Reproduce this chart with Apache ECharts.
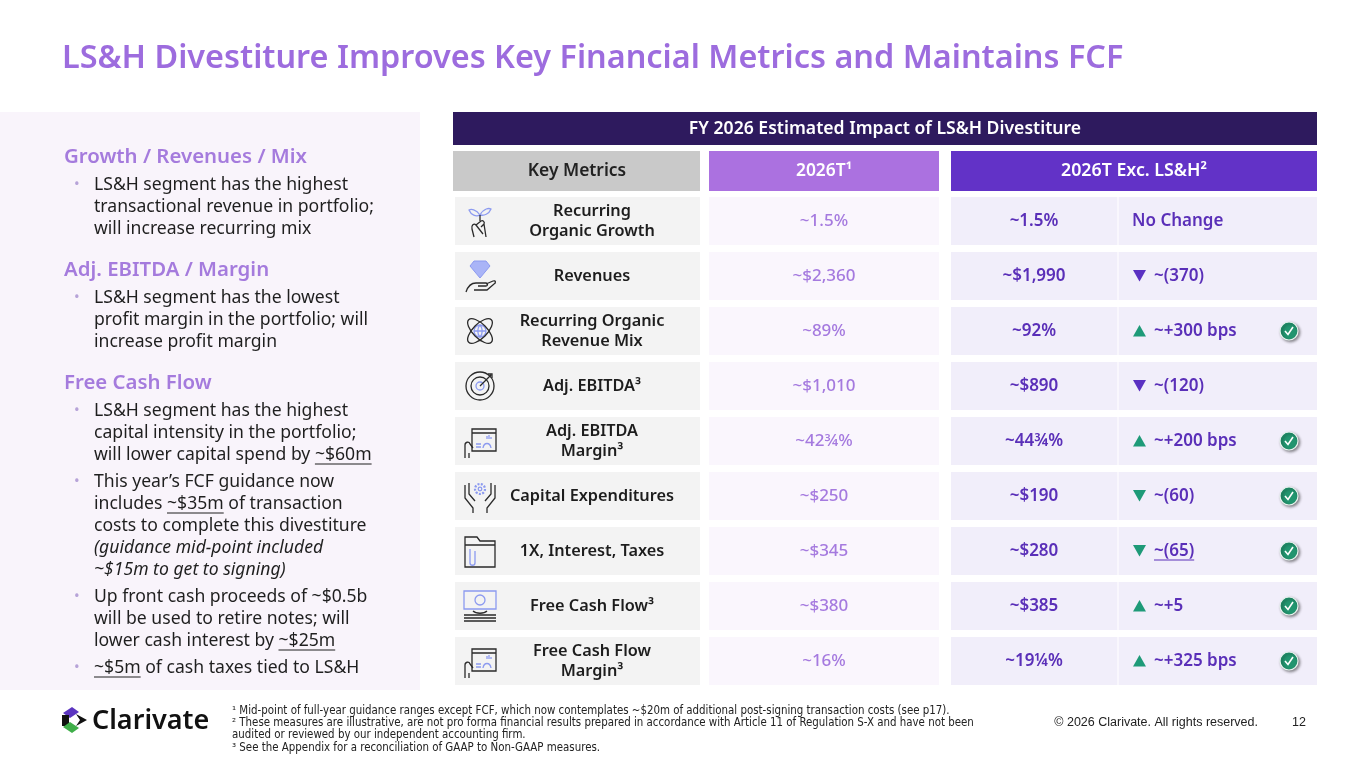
<!DOCTYPE html>
<html>
<head>
<meta charset="utf-8">
<script src="https://cdn.jsdelivr.net/npm/echarts@6/dist/echarts.min.js"></script>
<style>
  html, body { margin: 0; padding: 0; background: #fff; }
  #main { width: 1365px; height: 766px; }
</style>
</head>
<body>
<div id="main"></div>
<script>
// table data, one entry per row
const metrics = [
  'Recurring\nOrganic Growth', 'Revenues', 'Recurring Organic\nRevenue Mix', 'Adj. EBITDA³',
  'Adj. EBITDA\nMargin³', 'Capital Expenditures', '1X, Interest, Taxes', 'Free Cash Flow³',
  'Free Cash Flow\nMargin³'
];
const iconKinds = ['growth', 'revenue', 'mix', 'target', 'margin', 'capex', 'folder', 'cash', 'margin'];
const est2026 = ['~1.5%', '~$2,360', '~89%', '~$1,010', '~42¾%', '~$250', '~$345', '~$380', '~16%'];
const estExLSH = ['~1.5%', '~$1,990', '~92%', '~$890', '~44¾%', '~$190', '~$280', '~$385', '~19¼%'];
const changeDir = ['none', 'down', 'up', 'down', 'up', 'down', 'down', 'up', 'up'];
// text between _ _ is underlined
const changeText = ['No Change', '~(370)', '~+300 bps', '~(120)', '~+200 bps', '~(60)', '_~(65)_', '~+5', '~+325 bps'];
const favourable = [false, false, true, false, true, true, true, true, true];

const leftSections = [
  { head: 'Growth / Revenues / Mix', bullets: [
    ['LS&H segment has the highest', 'transactional revenue in portfolio;', 'will increase recurring mix']
  ]},
  { head: 'Adj. EBITDA / Margin', bullets: [
    ['LS&H segment has the lowest', 'profit margin in the portfolio; will', 'increase profit margin']
  ]},
  { head: 'Free Cash Flow', bullets: [
    ['LS&H segment has the highest', 'capital intensity in the portfolio;', 'will lower capital spend by _~$60m_'],
    ['This year’s FCF guidance now', 'includes _~$35m_ of transaction', 'costs to complete this divestiture',
     '*(guidance mid-point included', '*~$15m to get to signing)'],
    ['Up front cash proceeds of ~$0.5b', 'will be used to retire notes; will', 'lower cash interest by _~$25m_'],
    ['_~$5m_ of cash taxes tied to LS&H']
  ]}
];

const footnotes = [
  '¹ Mid-point of full-year guidance ranges except FCF, which now contemplates ~$20m of additional post-signing transaction costs (see p17).',
  '² These measures are illustrative, are not pro forma financial results prepared in accordance with Article 11 of Regulation S-X and have not been',
  'audited or reviewed by our independent accounting firm.',
  '³ See the Appendix for a reconciliation of GAAP to Non-GAAP measures.'
];

const FONT = '"Noto Sans", Lato, sans-serif';
const PURPLE_LIGHT = '#A57ADF';
const PURPLE_DARK = '#5A2FB8';
const GREEN = '#1E9A78';

const measureCtx = document.createElement('canvas').getContext('2d');
function textW(str, font) {
  measureCtx.font = font;
  return measureCtx.measureText(str).width;
}

// text with _underlined_ parts -> text element plus underline lines
function markedText(str, x, y, font, fill) {
  const parts = str.split('_');
  const els = [{
    type: 'text',
    style: { text: parts.join(''), x: x, y: y, font: font, fill: fill,
      align: 'left', verticalAlign: 'middle', textAlign: 'left', textVerticalAlign: 'middle' }
  }];
  let off = 0;
  parts.forEach(function (p, k) {
    const w = textW(p, font);
    if (k % 2 === 1) {
      els.push({ type: 'line', shape: { x1: x + off, y1: y + 9, x2: x + off + w, y2: y + 9 },
        style: { stroke: fill, lineWidth: 1 } });
    }
    off += w;
  });
  return els;
}

function txt(text, x, y, font, fill, align) {
  return { type: 'text', style: { text: text, x: x, y: y, font: font, fill: fill,
    align: align || 'left', verticalAlign: 'middle', textAlign: align || 'left', textVerticalAlign: 'middle',
    lineHeight: 20 } };
}

// little line icons, drawn in a 34x34 box
const INK = '#2a2a2a', ACC = '#8C9AF0';
function icon(kind) {
  const s = { stroke: INK, fill: 'none', lineWidth: 1.3 };
  const a = { stroke: ACC, fill: 'none', lineWidth: 1.3 };
  const p = function (d, st) { return { type: 'path', shape: { pathData: d }, style: st }; };
  switch (kind) {
    case 'growth': return [
      p('M17 11 C13 5 8 5 6 6 C8 11 13 13 17 11 Z M17 11 C21 4 26 4 28 5 C26 10 21 12 17 11 Z', a),
      p('M17 11 L17 17', s),
      p('M11 33 L9 25 C8 21 11 19 13 21 L20 30 M13 21 L18 17 C20 16 22 18 21 20 L18 23 M21 20 L23 33', s)
    ];
    case 'revenue': return [
      p('M11 2 L23 2 L27 7 L17 19 L7 7 Z', { stroke: ACC, fill: '#A9B4F7', lineWidth: 1 }),
      p('M3 33 C5 27 8 24 13 24 L23 24 C25 24 25 27 23 27 L15 27 M23 25 L30 22 C33 21 33 24 31 25 L24 31 L11 31', s)
    ];
    case 'mix': return [
      { type: 'circle', shape: { cx: 17, cy: 17, r: 6 }, style: a },
      p('M11 17 L23 17 M17 11 C14 14 14 20 17 23 C20 20 20 14 17 11', a),
      { type: 'ellipse', x: 17, y: 17, rotation: Math.PI / 4, shape: { cx: 0, cy: 0, rx: 16, ry: 7 }, style: s },
      { type: 'ellipse', x: 17, y: 17, rotation: -Math.PI / 4, shape: { cx: 0, cy: 0, rx: 16, ry: 7 }, style: s }
    ];
    case 'target': return [
      { type: 'circle', shape: { cx: 17, cy: 17, r: 14 }, style: s },
      { type: 'circle', shape: { cx: 17, cy: 17, r: 9 }, style: s },
      { type: 'circle', shape: { cx: 17, cy: 17, r: 4 }, style: a },
      p('M17 17 L28 6 M25 5 L29 5 L29 9', s)
    ];
    case 'margin': return [
      p('M9 5 L33 5 L33 27 L9 27 Z M9 9 L33 9', s),
      p('M13 20 L18 20 M13 23 L18 23 M20 24 C21 18 27 18 28 24 M24 15 L24 12 M26 15 L26 11 M28 15 L28 13', a),
      p('M2 34 L2 21 C2 18 6 17 7 20 L10 24 M6 34 L6 29', s)
    ];
    case 'capex': return [
      { type: 'circle', shape: { cx: 17, cy: 10, r: 5 }, style: { stroke: ACC, fill: 'none', lineWidth: 2.2, lineDash: [2, 1.4] } },
      { type: 'circle', shape: { cx: 17, cy: 10, r: 1.8 }, style: a },
      p('M2 6 L2 19 L10 29 L10 34 M6 4 L6 15 L12 22 M32 6 L32 19 L24 29 L24 34 M28 4 L28 15 L22 22', s)
    ];
    case 'folder': return [
      p('M2 3 L14 3 L17 7 L32 7 L32 33 L2 33 Z M2 11 L32 11', s),
      p('M7 15 L7 29 C7 32 12 32 12 29 L12 17', a)
    ];
    case 'cash': return [
      { type: 'rect', shape: { x: 1, y: 2, width: 32, height: 18 }, style: a },
      { type: 'circle', shape: { cx: 17, cy: 11, r: 5 }, style: a },
      p('M10 22 C13 25 21 25 24 22 M1 26 L33 26 M1 29 L33 29 M1 32 L33 32', s)
    ];
  }
  return [];
}

function renderRow(params, api) {
  const i = api.value(1);
  const c = api.coord([0, i]);
  const band = api.size([0, 1])[1];
  const h = band - 7;
  const x0 = params.coordSys.x;
  const cy = c[1];
  const top = cy - h / 2;
  const kids = [
    { type: 'rect', shape: { x: x0 + 2, y: top, width: 245, height: h }, style: { fill: '#F3F3F3' } },
    { type: 'rect', shape: { x: x0 + 256, y: top, width: 230, height: h }, style: { fill: '#FAF6FD' } },
    { type: 'rect', shape: { x: x0 + 498, y: top, width: 366, height: h }, style: { fill: '#F1EEFA' } },
    { type: 'line', shape: { x1: x0 + 665, y1: top, x2: x0 + 665, y2: top + h }, style: { stroke: '#FBFAFE', lineWidth: 1.5 } },
    { type: 'group', x: x0 + 10, y: cy - 17, children: icon(iconKinds[i]) },
    txt(metrics[i], x0 + 139, cy, '600 16.3px ' + FONT, '#1d1d1d', 'center'),
    txt(est2026[i], x0 + 371, cy, '500 17px ' + FONT, PURPLE_LIGHT, 'center'),
    txt(estExLSH[i], x0 + 581, cy, '600 17px ' + FONT, PURPLE_DARK, 'center')
  ];
  const dir = changeDir[i];
  const arrowColor = favourable[i] ? GREEN : '#5B31C2';
  let tx = x0 + 679;
  if (dir === 'up') {
    kids.push({ type: 'polygon', shape: { points: [[x0 + 680, cy + 5.5], [x0 + 693, cy + 5.5], [x0 + 686.5, cy - 6]] }, style: { fill: arrowColor } });
    tx = x0 + 701;
  } else if (dir === 'down') {
    kids.push({ type: 'polygon', shape: { points: [[x0 + 680, cy - 6], [x0 + 693, cy - 6], [x0 + 686.5, cy + 5.5]] }, style: { fill: arrowColor } });
    tx = x0 + 701;
  }
  markedText(changeText[i], tx, cy, '600 17px ' + FONT, PURPLE_DARK).forEach(function (e) { kids.push(e); });
  if (favourable[i]) {
    kids.push({ type: 'circle', shape: { cx: x0 + 836, cy: cy, r: 9 },
      style: { fill: '#22956F', stroke: '#E9F5EF', lineWidth: 1.2, shadowBlur: 3, shadowColor: 'rgba(0,0,0,0.45)', shadowOffsetX: 1.5, shadowOffsetY: 1.5 } });
    kids.push({ type: 'polyline', shape: { points: [[x0 + 832, cy], [x0 + 835, cy + 3.5], [x0 + 840, cy - 4]] },
      style: { stroke: '#fff', lineWidth: 1.6, fill: 'none' } });
  }
  return { type: 'group', children: kids };
}

// static page furniture
const graphics = [];
graphics.push(txt('LS&H Divestiture Improves Key Financial Metrics and Maintains FCF', 62, 59, '600 32.4px ' + FONT, '#9D6CDE'));

// left panel
graphics.push({ type: 'rect', z: -1, shape: { x: 0, y: 112, width: 420, height: 578 }, style: { fill: '#F9F4FB' } });
let ly = 157;
leftSections.forEach(function (sec, si) {
  if (si > 0) ly += 41;
  graphics.push(txt(sec.head, 64, ly, '600 20.4px ' + FONT, '#A57BDD'));
  sec.bullets.forEach(function (lines, bi) {
    ly += bi === 0 ? 28 : 27;
    graphics.push(txt('•', 74, ly, '15px ' + FONT, '#B7A3D8'));
    lines.forEach(function (line, li) {
      if (li > 0) ly += 22;
      let font = '17.6px ' + FONT;
      let t = line;
      if (t.charAt(0) === '*') { font = 'italic 17.6px ' + FONT; t = t.slice(1); }
      markedText(t, 94, ly, font, '#1f1f1f').forEach(function (e) { graphics.push(e); });
    });
  });
});

// table header
graphics.push({ type: 'rect', shape: { x: 453, y: 112, width: 864, height: 33 }, style: { fill: '#2E1A5E' } });
graphics.push(txt('FY 2026 Estimated Impact of LS&H Divestiture', 885, 129, '600 17.6px ' + FONT, '#ffffff', 'center'));
graphics.push({ type: 'rect', shape: { x: 453, y: 151, width: 247, height: 40 }, style: { fill: '#C9C9C9' } });
graphics.push(txt('Key Metrics', 577, 171, '600 17.4px ' + FONT, '#222222', 'center'));
graphics.push({ type: 'rect', shape: { x: 709, y: 151, width: 230, height: 40 }, style: { fill: '#AB71E0' } });
graphics.push(txt('2026T¹', 824, 171, '600 17.4px ' + FONT, '#ffffff', 'center'));
graphics.push({ type: 'rect', shape: { x: 951, y: 151, width: 366, height: 40 }, style: { fill: '#6232C7' } });
graphics.push(txt('2026T Exc. LS&H²', 1134, 171, '600 17.8px ' + FONT, '#ffffff', 'center'));

// footer: logo, notes, copyright
graphics.push({ type: 'polygon', shape: { points: [[63, 713], [72, 707], [79, 712], [70, 718]] }, style: { fill: '#5C35C0' } });
graphics.push({ type: 'rect', shape: { x: 62, y: 715, width: 7, height: 11 }, style: { fill: '#111111' } });
graphics.push({ type: 'polygon', shape: { points: [[63, 727], [70, 722], [79, 728], [72, 733]] }, style: { fill: '#3FAE49' } });
graphics.push({ type: 'polygon', shape: { points: [[76, 714], [87, 720], [76, 726], [80, 720]] }, style: { fill: '#111111' } });
graphics.push(txt('Clarivate', 92, 721, '600 27px ' + FONT, '#111111'));
const noteFont = '11.4px "Liberation Sans Narrow", "DejaVu Sans Condensed", sans-serif';
[711, 723, 735, 748].forEach(function (y, k) {
  graphics.push(txt(footnotes[k], 232, y, noteFont, '#222222'));
});
graphics.push(txt('© 2026 Clarivate. All rights reserved.', 1258, 723, '12.5px "Liberation Sans Narrow", sans-serif', '#222222', 'right'));
graphics.push(txt('12', 1299, 723, '12.5px "Liberation Sans Narrow", sans-serif', '#222222', 'center'));

const chart = echarts.init(document.getElementById('main'), null, { renderer: 'canvas' });
chart.setOption({
  backgroundColor: '#ffffff',
  animation: false,
  grid: { left: 453, width: 864, top: 193.5, height: 495 },
  xAxis: { type: 'value', min: 0, max: 1, show: false },
  yAxis: { type: 'category', data: metrics, inverse: true, show: false },
  graphic: { elements: graphics },
  series: [{
    type: 'custom',
    renderItem: renderRow,
    data: metrics.map(function (m, i) { return [0, i]; }),
    encode: { x: 0, y: 1 },
    silent: true
  }]
});
</script>
</body>
</html>
